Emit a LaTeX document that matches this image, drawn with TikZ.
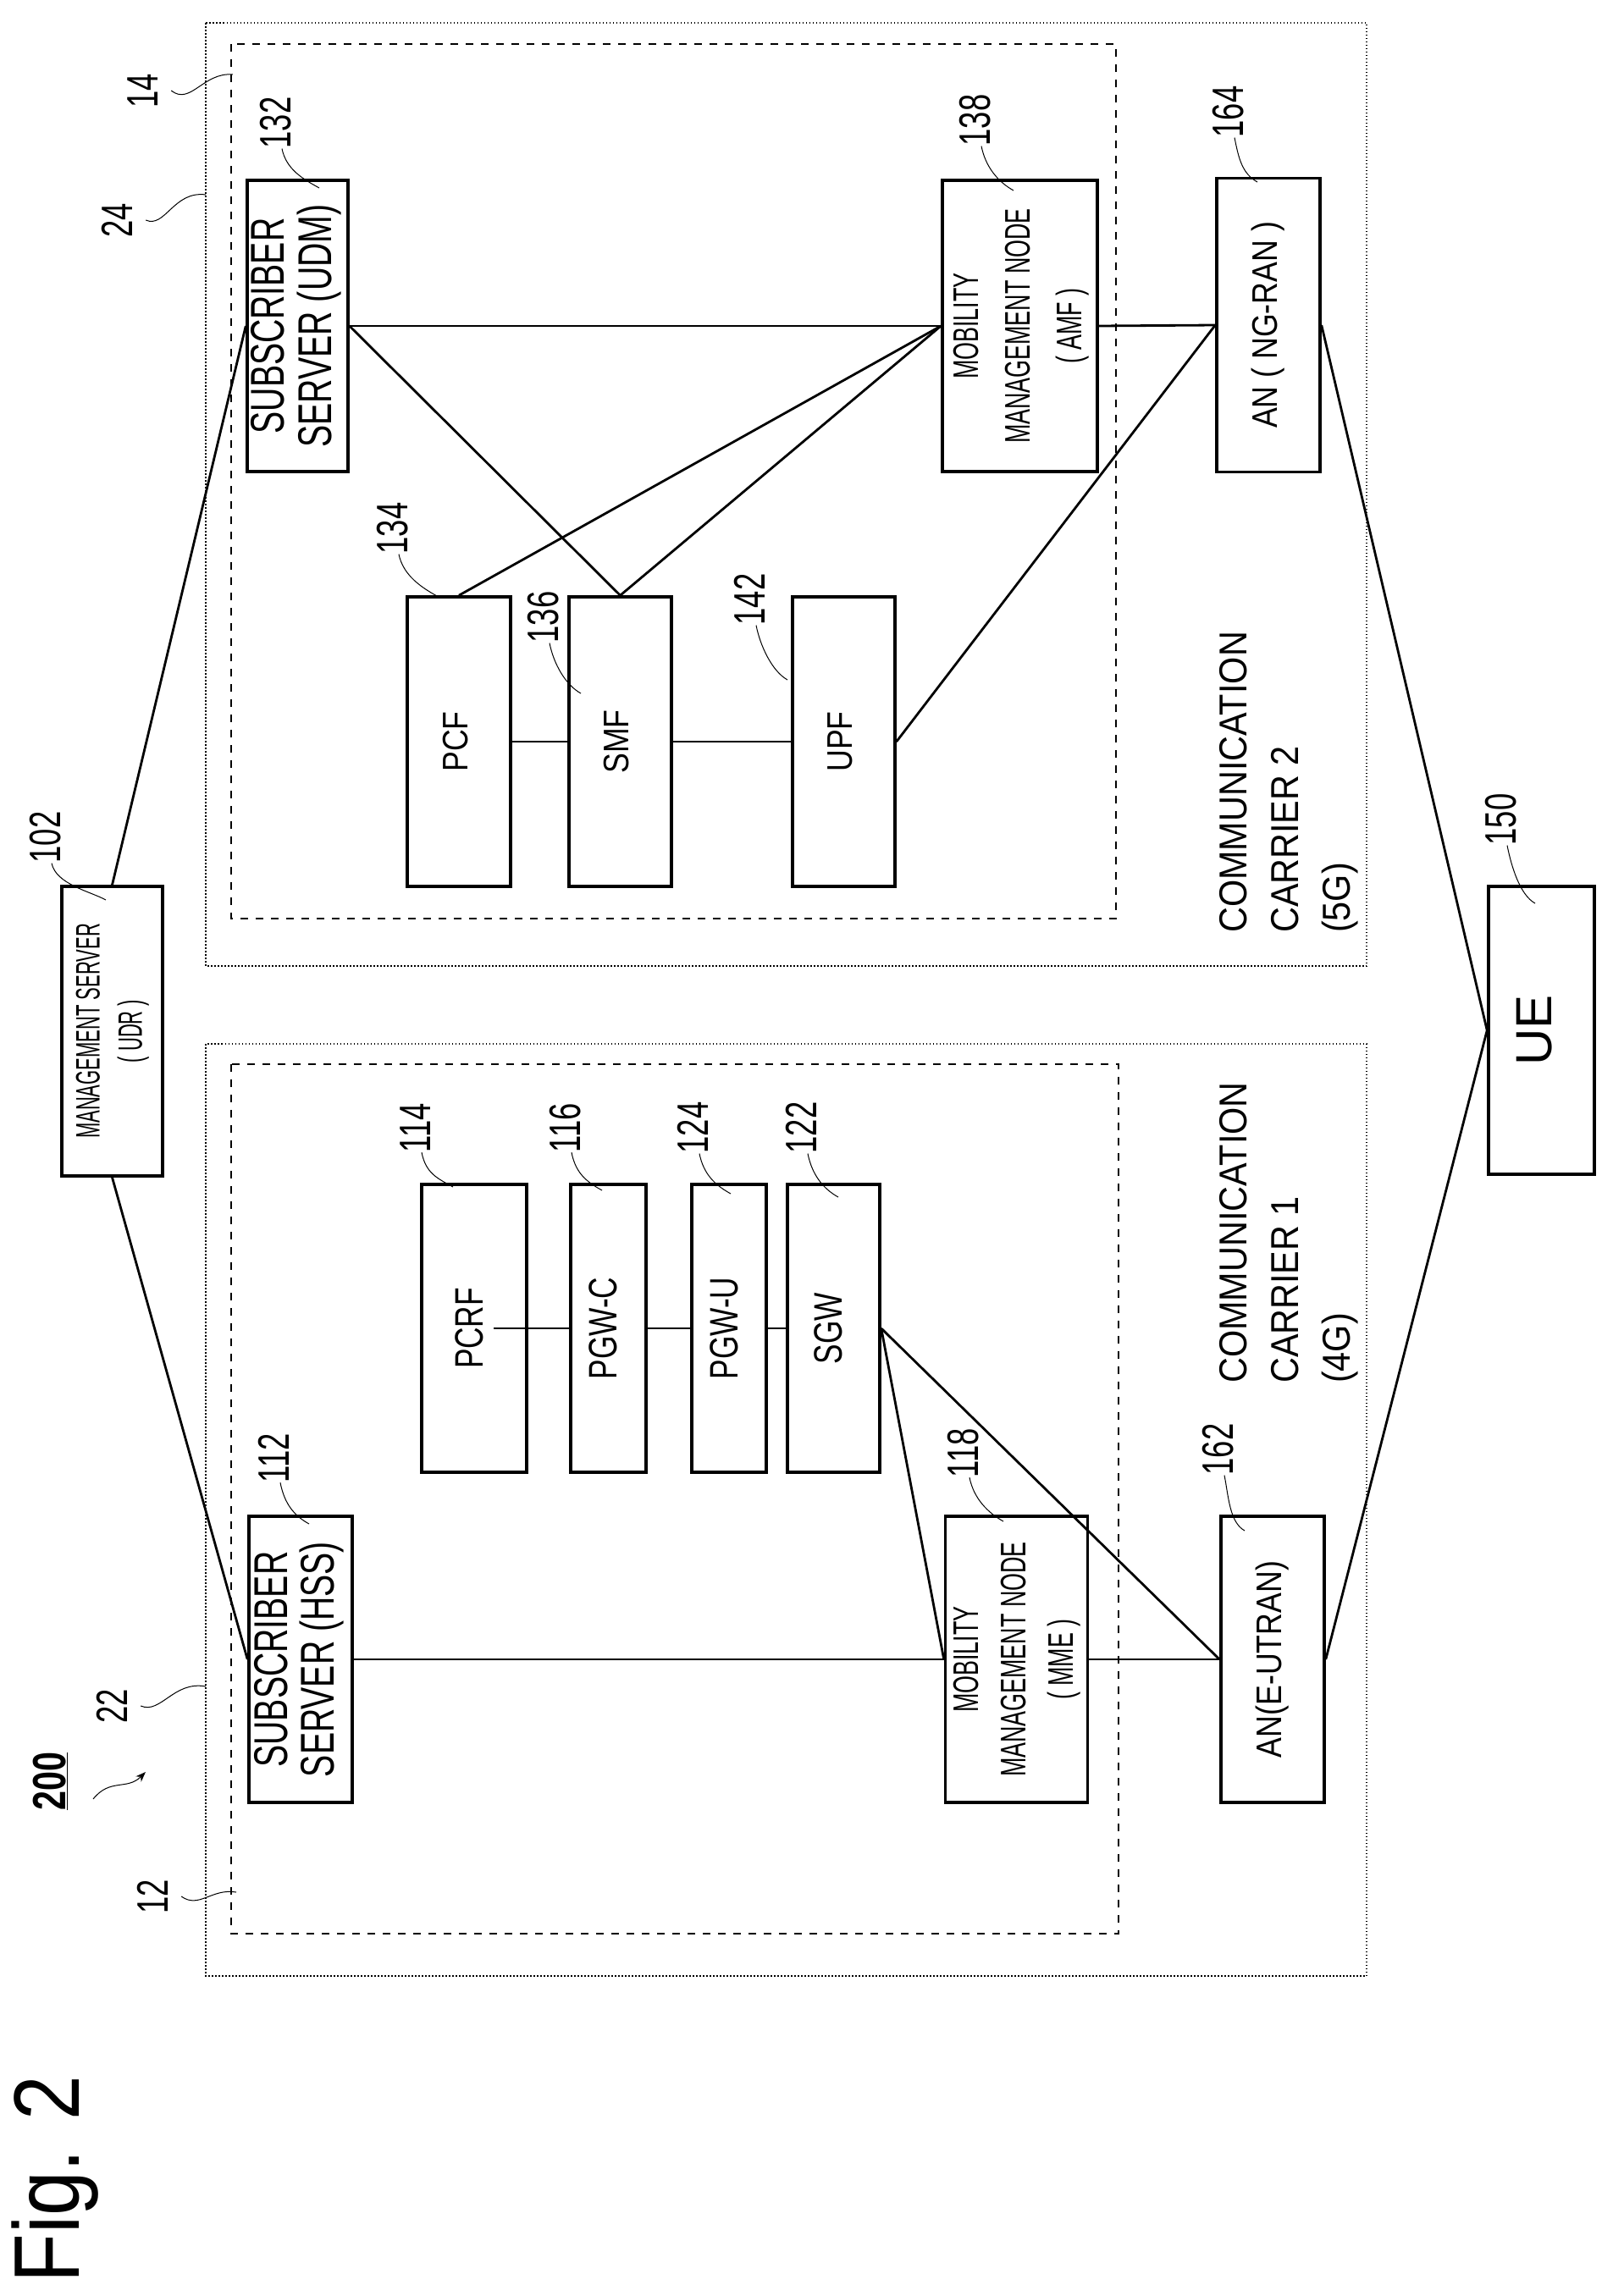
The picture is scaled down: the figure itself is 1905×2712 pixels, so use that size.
\documentclass[tikz,border=0pt]{standalone}
\usepackage{fontspec}
\setmainfont{Liberation Sans}
\usepackage{graphicx}
\usetikzlibrary{arrows.meta}
\newcommand\rtx[2]{\rotatebox{90}{\scalebox{#1}[1]{\begin{tabular}{@{}c@{}}#2\end{tabular}}}}
\newcommand\rtl[2]{\rotatebox{90}{\scalebox{#1}[1]{\begin{tabular}{@{}l@{}}#2\end{tabular}}}}
\begin{document}
\begin{tikzpicture}[x=1pt,y=-1pt,
  box/.style={draw, line width=3.5pt, inner sep=0pt, minimum width=#1},
  conn/.style={line width=2.8pt},
  lead/.style={line width=1pt},
  num/.style={inner sep=0pt, font=\fontsize{52}{52}\selectfont},
  outer/.style={line width=1.5pt, dash pattern=on 1.5pt off 2.5pt},
  inner/.style={line width=2pt, dash pattern=on 9pt off 9pt}]
\useasboundingbox (0,0) rectangle (1905,2712);
% regions
\draw[outer] (243,27) rectangle (1614,1141);
\draw[inner] (273,52) rectangle (1318,1085);
\draw[outer] (243,1233) rectangle (1614,2334);
\draw[inner] (273,1257) rectangle (1321,2284);
% boxes 5G
\node[box=119, minimum height=344, font=\fontsize{56}{50}\selectfont] (udm) at (351.5,385) {\rtx{0.7}{SUBSCRIBER\\SERVER (UDM)}};
\node[box=171, minimum height=344, font=\fontsize{42}{61}\selectfont] (amf) at (1204.5,385) {\rtx{0.64}{MOBILITY\\MANAGEMENT NODE\\( AMF )}};
\node[box=122, minimum height=347, font=\fontsize{42}{50}\selectfont] (ran) at (1498,384) {\rtx{0.85}{AN ( NG-RAN )}};
\node[box=122, minimum height=342, font=\fontsize{42}{50}\selectfont] (pcf) at (542,876) {\rtx{0.85}{PCF}};
\node[box=121, minimum height=342, font=\fontsize{42}{50}\selectfont] (smf) at (732.5,876) {\rtx{0.85}{SMF}};
\node[box=121, minimum height=342, font=\fontsize{42}{50}\selectfont] (upf) at (996.5,876) {\rtx{0.85}{UPF}};
% middle
\node[box=119, minimum height=342, font=\fontsize{40}{50}\selectfont] (udr) at (132.5,1218) {\rtx{0.55}{MANAGEMENT SERVER\\( UDR )}};
\node[box=125, minimum height=340, font=\fontsize{60}{60}\selectfont] (ue) at (1820.5,1217) {\rtx{1}{UE}};
% boxes 4G
\node[box=124, minimum height=340, font=\fontsize{47}{50}\selectfont] (pcrf) at (560,1569) {\rtx{0.75}{PCRF}};
\node[box=89, minimum height=340, font=\fontsize{47}{50}\selectfont] (pgwc) at (718.5,1569) {\rtx{0.75}{PGW-C}};
\node[box=88, minimum height=340, font=\fontsize{47}{50}\selectfont] (pgwu) at (861,1569) {\rtx{0.75}{PGW-U}};
\node[box=109, minimum height=340, font=\fontsize{47}{50}\selectfont] (sgw) at (984.5,1569) {\rtx{0.75}{SGW}};
\node[box=122, minimum height=338, font=\fontsize{56}{50}\selectfont] (hss) at (355,1960) {\rtx{0.7}{SUBSCRIBER\\SERVER (HSS)}};
\node[box=163, minimum height=338, font=\fontsize{42}{56}\selectfont] (mme) at (1200.5,1960) {\rtx{0.64}{MOBILITY\\MANAGEMENT NODE\\( MME )}};
\node[box=122, minimum height=338, font=\fontsize{42}{50}\selectfont] (eut) at (1503,1960) {\rtx{0.85}{AN(E-UTRAN)}};
% connectors
\draw[conn] (udm.east) -- (amf.west);
\draw[conn] (amf.east) -- (ran.west);
\draw[conn] (udm.east) -- (smf.north);
\draw[conn] (pcf.north) -- (amf.west);
\draw[conn] (smf.north) -- (amf.west);
\draw[conn] (upf.east) -- (ran.west);
\draw[conn] (pcf.east) -- (smf.west);
\draw[conn] (smf.east) -- (upf.west);
\draw[conn] (ran.east) -- (ue.west);
\draw[conn] (udr.north) -- (udm.west);
\draw[conn] (udr.south) -- (hss.west);
\draw[conn] (hss.east) -- (mme.west);
\draw[conn] (mme.east) -- (eut.west);
\draw[conn] ([xshift=23pt]pcrf.center) -- (pgwc.west);
\draw[conn] (pgwc.east) -- (pgwu.west);
\draw[conn] (pgwu.east) -- (sgw.west);
\draw[conn] (sgw.east) -- (mme.west);
\draw[conn] (sgw.east) -- (eut.west);
\draw[conn] (eut.east) -- (ue.west);
% region labels
\node[inner sep=0pt, anchor=south west, font=\fontsize{46}{61}\selectfont] (c2) at (1430,1102) {\rtl{0.9}{COMMUNICATION\\CARRIER 2\\(5G)}};
\node[inner sep=0pt, anchor=south west, font=\fontsize{46}{61}\selectfont] (c1) at (1430,1634) {\rtl{0.9}{COMMUNICATION\\CARRIER 1\\(4G)}};
\node[inner sep=0pt, font=\fontsize{110}{110}\selectfont] (fig) at (70,2574) {\rtx{0.86}{Fig. 2}};
\node[inner sep=0pt, font=\fontsize{55}{55}\selectfont\bfseries] (n200) at (66,2104) {\rtx{0.75}{\underline{200}}};
\coordinate (t200) at (172,2093);
\draw[lead, -{Stealth[length=12pt]}] (110,2125) .. controls (130,2100) and (150,2115) .. (t200);
% number labels and leaders
\newcommand\numlab[6]{%
  \node[num] (n#1) at (#2,#3) {\rtx{0.7}{#1}};
  \coordinate (t#1) at (#4,#5);
  \draw[lead] (n#1.south) .. controls +(#6) and +(-18,-10) .. (t#1);}
\numlab{132}{333}{145}{377}{222}{5,25}
\numlab{138}{1159}{142}{1197}{225}{5,25}
\numlab{164}{1458}{132}{1485}{215}{5,25}
\numlab{134}{471}{624}{516}{704}{5,25}
\numlab{136}{649}{729}{686}{819}{5,25}
\numlab{142}{893}{708}{930}{803}{5,25}
\numlab{102}{61}{989}{125}{1063}{5,25}
\numlab{150}{1780}{968}{1813}{1067}{5,25}
\numlab{114}{498}{1332}{535}{1402}{5,25}
\numlab{116}{675}{1332}{711}{1406}{5,25}
\numlab{124}{826}{1332}{863}{1410}{5,25}
\numlab{122}{954}{1332}{990}{1414}{5,25}
\numlab{112}{331}{1722}{365}{1800}{5,25}
\numlab{118}{1145}{1716}{1185}{1797}{5,25}
\numlab{162}{1446}{1712}{1470}{1808}{5,25}
% region numbers
\node[num] (n14) at (176,107) {\rtx{0.7}{14}};
\coordinate (t14) at (275,88);
\draw[lead] (n14.east) .. controls (225,125) and (240,85) .. (t14);
\node[num] (n24) at (146,260) {\rtx{0.7}{24}};
\coordinate (t24) at (243,230);
\draw[lead] (n24.east) .. controls (195,270) and (205,225) .. (t24);
\node[num] (n22) at (140,2015) {\rtx{0.7}{22}};
\coordinate (t22) at (243,1992);
\draw[lead] (n22.east) .. controls (190,2025) and (205,1985) .. (t22);
\node[num] (n12) at (188,2240) {\rtx{0.7}{12}};
\coordinate (t12) at (279,2235);
\draw[lead] (n12.east) .. controls (235,2255) and (250,2230) .. (t12);
\end{tikzpicture}
\end{document}
